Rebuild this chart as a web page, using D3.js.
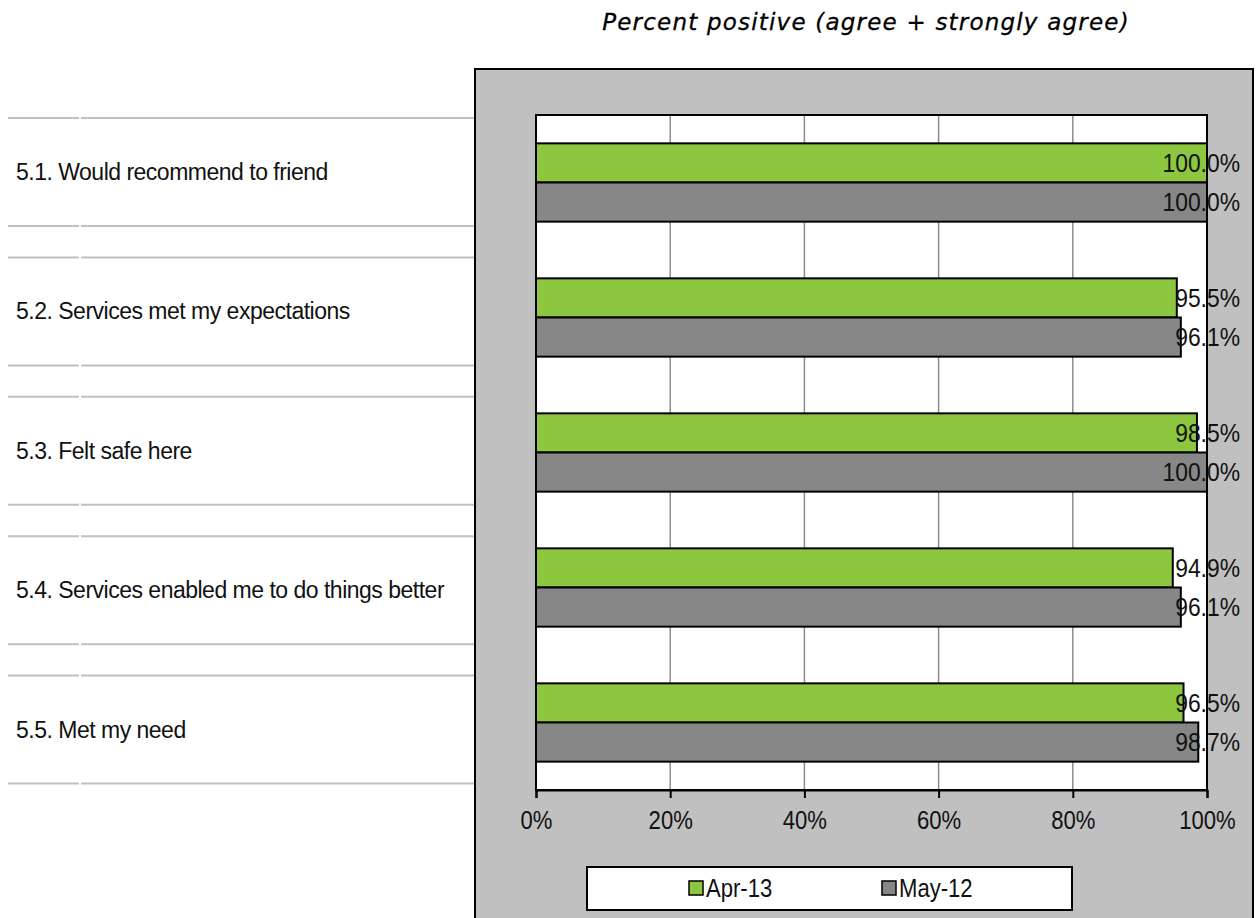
<!DOCTYPE html>
<html>
<head>
<meta charset="utf-8">
<script src="https://cdn.jsdelivr.net/npm/d3@7"></script>
<style>
  html, body { margin: 0; padding: 0; background: #ffffff; }
  svg { display: block; }
</style>
</head>
<body>
<svg id="chart" width="1256" height="918"></svg>
<script>
// Survey items and the two survey rounds
const categories = [
  "5.1. Would recommend to friend",
  "5.2. Services met my expectations",
  "5.3. Felt safe here",
  "5.4. Services enabled me to do things better",
  "5.5. Met my need"
];
const seriesNames = ["Apr-13", "May-12"];
const apr13 = [100.0, 95.5, 98.5, 94.9, 96.5];
const may12 = [100.0, 96.1, 100.0, 96.1, 98.7];
const tickValues = [0, 20, 40, 60, 80, 100];
const titleText = "Percent positive (agree + strongly agree)";

const colors = { "Apr-13": "#8dc63f", "May-12": "#878787" };
const sans = "'Liberation Sans', Arial, sans-serif";
// condensed look for axis, value and legend text
const narrowScale = 0.85;

const rows = categories.map((c, i) => ({ cat: c, "Apr-13": apr13[i], "May-12": may12[i] }));

const svg = d3.select("#chart");

// Title
svg.append("text")
  .attr("x", 866).attr("y", 30)
  .attr("text-anchor", "middle")
  .style("font-family", "'DejaVu Sans', Verdana, sans-serif")
  .style("font-style", "italic")
  .style("font-size", "23px")
  .style("letter-spacing", "1.2px")
  .style("stroke", "#000").style("stroke-width", 0.3)
  .style("fill", "#000")
  .text(titleText);

// Left-hand table of item labels
const rowScale = d3.scaleBand().domain(categories).range([118, 783.6]).paddingInner(0.225).paddingOuter(0);
const table = svg.append("g");
categories.forEach(c => {
  const y0 = rowScale(c), y1 = y0 + rowScale.bandwidth();
  [y0, y1].forEach(y => {
    table.append("line").attr("x1", 8).attr("x2", 79).attr("y1", y).attr("y2", y)
      .attr("stroke", "#c0c0c0").attr("stroke-width", 2);
    table.append("line").attr("x1", 81).attr("x2", 476).attr("y1", y).attr("y2", y)
      .attr("stroke", "#c0c0c0").attr("stroke-width", 2);
  });
  table.append("text")
    .attr("x", 16).attr("y", (y0 + y1) / 2 + 8)
    .style("font-family", sans)
    .style("font-size", "23px")
    .style("letter-spacing", "-0.5px")
    .style("fill", "#111")
    .text(c);
});

// Chart area frame
svg.append("rect")
  .attr("x", 475).attr("y", 69).attr("width", 778).attr("height", 870)
  .attr("fill", "#c0c0c0").attr("stroke", "#000").attr("stroke-width", 2);

const plot = { left: 536, right: 1207, top: 115, bottom: 790 };

const x = d3.scaleLinear().domain([0, 100]).range([plot.left, plot.right]);
const y = d3.scaleBand().domain(categories).range([plot.top, plot.bottom])
  .paddingInner(0.42).paddingOuter(0.21);
const ySub = d3.scaleBand().domain(seriesNames).range([0, y.bandwidth()]);

// Plot background
svg.append("rect")
  .attr("x", plot.left).attr("y", plot.top)
  .attr("width", plot.right - plot.left).attr("height", plot.bottom - plot.top)
  .attr("fill", "#ffffff");

// Vertical gridlines
svg.append("g").selectAll("line")
  .data(tickValues.slice(1, -1))
  .join("line")
  .attr("x1", d => x(d)).attr("x2", d => x(d))
  .attr("y1", plot.top).attr("y2", plot.bottom)
  .attr("stroke", "#8c8c8c").attr("stroke-width", 1.5);

// Bars
const groups = svg.append("g").selectAll("g")
  .data(rows)
  .join("g")
  .attr("transform", d => `translate(0,${y(d.cat)})`);

groups.selectAll("rect")
  .data(d => seriesNames.map(s => ({ s, v: d[s] })))
  .join("rect")
  .attr("x", x(0))
  .attr("y", d => ySub(d.s))
  .attr("width", d => x(d.v) - x(0))
  .attr("height", ySub.bandwidth())
  .attr("fill", d => colors[d.s])
  .attr("stroke", "#000").attr("stroke-width", 2);

// Plot border
svg.append("rect")
  .attr("x", plot.left).attr("y", plot.top)
  .attr("width", plot.right - plot.left).attr("height", plot.bottom - plot.top)
  .attr("fill", "none").attr("stroke", "#000").attr("stroke-width", 2);

// Value labels
groups.selectAll("text")
  .data(d => seriesNames.map(s => ({ s, v: d[s] })))
  .join("text")
  .attr("transform", d => `translate(${x(100) + 33},${ySub(d.s) + ySub.bandwidth() / 2 + 9}) scale(0.88,1)`)
  .attr("text-anchor", "end")
  .style("font-family", sans)
  .style("font-size", "26px")
  .style("fill", "#111")
  .text(d => d.v.toFixed(1) + "%");

// X axis
const xAxis = d3.axisBottom(x)
  .tickValues(tickValues)
  .tickFormat(d => d + "%")
  .tickSize(8)
  .tickPadding(13);
const axisG = svg.append("g")
  .attr("transform", `translate(0,${plot.bottom})`)
  .call(xAxis);
axisG.select(".domain").attr("stroke", "#000").attr("stroke-width", 2);
axisG.selectAll(".tick line").attr("stroke", "#000").attr("stroke-width", 2);
axisG.selectAll(".tick text")
  .attr("transform", `scale(${narrowScale},1)`)
  .style("font-family", sans)
  .style("font-size", "26px")
  .style("fill", "#111");

// Legend
const legend = svg.append("g");
legend.append("rect")
  .attr("x", 587).attr("y", 867).attr("width", 485).attr("height", 43)
  .attr("fill", "#fff").attr("stroke", "#000").attr("stroke-width", 2);
const legendX = d3.scalePoint().domain(seriesNames).range([689, 882]);
const item = legend.selectAll("g.item")
  .data(seriesNames)
  .join("g")
  .attr("class", "item")
  .attr("transform", d => `translate(${legendX(d)},888)`);
item.append("rect")
  .attr("x", 0).attr("y", -7).attr("width", 14).attr("height", 14)
  .attr("fill", d => colors[d]).attr("stroke", "#000").attr("stroke-width", 1.5);
item.append("text")
  .attr("transform", `translate(17,9) scale(${narrowScale},1)`)
  .style("font-family", sans)
  .style("font-size", "26px")
  .style("fill", "#111")
  .text(d => d);
</script>
</body>
</html>
